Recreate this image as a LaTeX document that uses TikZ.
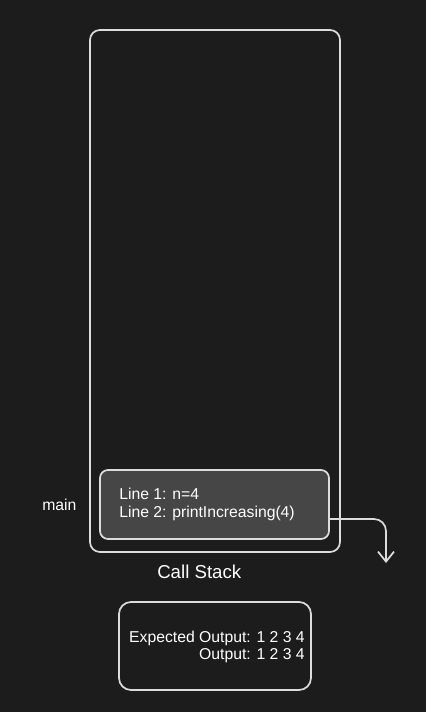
\documentclass[tikz,border=0pt]{standalone}
\usepackage{fontspec}
\setmainfont{Liberation Sans}
\usetikzlibrary{arrows.meta,calc}
\definecolor{bg}{HTML}{1C1C1C}
\definecolor{ln}{HTML}{DCDCDC}
\definecolor{framefill}{HTML}{464646}
\begin{document}
\begin{tikzpicture}[x=0.75pt,y=-0.75pt,
  box/.style={draw=ln,line width=1.3pt,inner sep=0pt},
  txt/.style={text=white,inner sep=0pt,font=\fontsize{11.8}{14}\selectfont},
  conn/.style={draw=ln,line width=1.3pt,-{Straight Barb[length=7.5pt,width=12pt,line width=1.3pt]}}]
\fill[bg] (0,0) rectangle (426,712);
\useasboundingbox (0,0) rectangle (426,712);
\node[box,rounded corners=7.5pt,minimum width=187.5pt,minimum height=391.5pt] (stack) at (215,291) {};
\node[box,fill=framefill,rounded corners=6pt,minimum width=171.75pt,minimum height=51.75pt] (frame) at (214.5,504.5) {};
\node[box,rounded corners=9pt,minimum width=144pt,minimum height=66pt] (out) at (215,646) {};
\node[txt,anchor=base west] (l1) at (119,499) {Line 1: n=4};
\node[txt,anchor=base west] (l2) at (119,517) {Line 2: printIncreasing(4)};
\node[txt,anchor=base west] (main) at (42,510) {main};
\node[txt,anchor=base west,font=\fontsize{14}{16}\selectfont] (cs) at (157,578) {Call Stack};
\node[txt,anchor=base east] (eo) at (305,642) {Expected Output: 1 2 3 4};
\node[txt,anchor=base east] (o) at (305,659) {Output: 1 2 3 4};
\coordinate (tip) at (386,563);
\draw[conn,rounded corners=9pt] ($(frame.east)+(0,14.5)$) -| (tip);
\end{tikzpicture}
\end{document}
